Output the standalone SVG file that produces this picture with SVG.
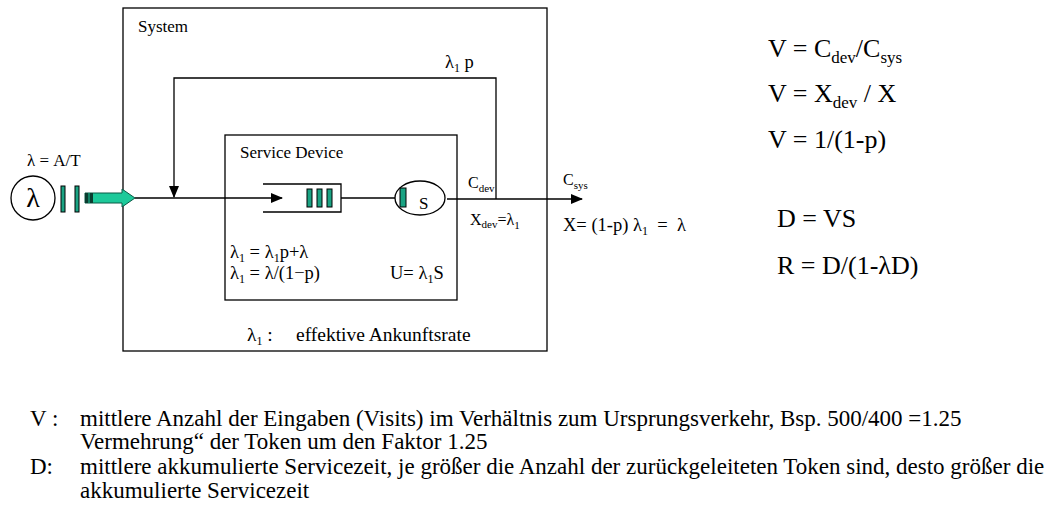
<svg xmlns="http://www.w3.org/2000/svg" width="1059" height="514" viewBox="0 0 1059 514">
<style>
text{font-family:"Liberation Serif","Times New Roman",serif;fill:#000}
.box{fill:none;stroke:#000;stroke-width:1.3}
.ln{fill:none;stroke:#000;stroke-width:1.3}
.tok{fill:#1aa383;stroke:#000;stroke-width:1}
.s17{font-size:17px}
.s18{font-size:18.5px}
.s20{font-size:19.5px}
.s16{font-size:16px}
.sub{font-size:11px}
.sub2{font-size:12px}
.eq{font-size:26px}
.eqs{font-size:17px}
.bt{font-size:23px}
</style>
<defs>
<marker id="ah" markerWidth="12" markerHeight="10" refX="11" refY="5" orient="auto" markerUnits="userSpaceOnUse">
<path d="M0,0 L12,5 L0,10 Z" fill="#000"/>
</marker>
</defs>
<rect width="1059" height="514" fill="#fff"/>

<g id="system">
<rect class="box" x="123" y="8" width="424" height="343"/>
<text class="s17" x="138" y="32">System</text>
<text class="s20" x="247" y="341">λ<tspan class="sub2" dy="4">1</tspan><tspan dy="-4"> :</tspan></text>
<text class="s20" x="296" y="341">effektive Ankunftsrate</text>
</g>

<g id="source">
<circle cx="33" cy="198" r="22" fill="#fff" stroke="#000" stroke-width="1.3"/>
<text x="33" y="207" font-size="28" text-anchor="middle">λ</text>
<text class="s17" x="27" y="166">λ = A/T</text>
<rect class="tok" x="61" y="186" width="4" height="26"/>
<rect class="tok" x="75" y="186" width="4" height="26"/>
</g>

<g id="input-arrow">
<path d="M85,193 L122,193 L122,189 L135,198 L122,207 L122,203 L85,203 Z" fill="#1dc99a" stroke="#0b5a46" stroke-width="1"/>
<rect x="85" y="193" width="8" height="10" fill="#0b3d30"/>
<line x1="89" y1="193" x2="89" y2="203" stroke="#1dc99a" stroke-width="1"/>
</g>

<g id="service-device">
<rect class="box" x="225" y="135" width="232" height="165"/>
<text class="s17" x="240" y="158">Service Device</text>
<text class="s18" x="230" y="258">λ<tspan class="sub2" dy="4">1</tspan><tspan dy="-4"> = λ</tspan><tspan class="sub2" dy="4">1</tspan><tspan dy="-4">p+λ</tspan></text>
<text class="s18" x="230" y="279">λ<tspan class="sub2" dy="4">1</tspan><tspan dy="-4"> = λ/(1−p)</tspan></text>
<text class="s18" x="390" y="279">U= λ<tspan class="sub2" dy="4">1</tspan><tspan dy="-4">S</tspan></text>
</g>

<g id="queue">
<path class="ln" d="M263,184 L341,184 L341,212 L263,212"/>
<rect class="tok" x="307" y="189" width="5" height="18"/>
<rect class="tok" x="317" y="189" width="5" height="18"/>
<rect class="tok" x="327" y="189" width="5" height="18"/>
</g>

<g id="server">
<ellipse cx="420" cy="198" rx="25" ry="17" fill="#fff" stroke="#000" stroke-width="1.3"/>
<rect class="tok" x="400" y="188" width="6" height="19"/>
<text class="s17" x="419" y="209">S</text>
</g>

<g id="connectors">
<line class="ln" x1="135" y1="198" x2="282" y2="198" marker-end="url(#ah)"/>
<line class="ln" x1="341" y1="198" x2="395" y2="198"/>
<line class="ln" x1="447" y1="199" x2="582" y2="199" marker-end="url(#ah)"/>
<path class="ln" d="M496,199 L496,78 L174,78 L174,197" marker-end="url(#ah)"/>
</g>

<g id="labels">
<text class="s18" x="445" y="68">λ<tspan class="sub2" dy="4">1</tspan><tspan dy="-4"> p</tspan></text>
<text class="s16" x="468" y="188">C<tspan class="sub" dy="4">dev</tspan></text>
<text class="s16" x="470" y="225">X<tspan class="sub" dy="3">dev</tspan><tspan dy="-3">=λ</tspan><tspan class="sub" dy="4">1</tspan></text>
<text class="s16" x="563" y="185">C<tspan class="sub" dy="4">sys</tspan></text>
<text class="s18" x="563" y="231" xml:space="preserve">X= (1-p) λ<tspan class="sub2" dy="4">1</tspan><tspan dy="-4">  =  λ</tspan></text>
</g>

<g id="equations">
<text class="eq" x="768" y="57">V = C<tspan class="eqs" dy="6">dev</tspan><tspan dy="-6">/C</tspan><tspan class="eqs" dy="6">sys</tspan></text>
<text class="eq" x="768" y="102">V = X<tspan class="eqs" dy="6">dev</tspan><tspan dy="-6"> / X</tspan></text>
<text class="eq" x="768" y="148">V = 1/(1-p)</text>
<text class="eq" x="777" y="227">D = VS</text>
<text class="eq" x="777" y="274">R = D/(1-λD)</text>
</g>

<g id="legend">
<text class="bt" x="30" y="426">V :</text>
<text class="bt" x="80" y="426">mittlere Anzahl der Eingaben (Visits) im Verhältnis zum Ursprungsverkehr, Bsp. 500/400 =1.25</text>
<text class="bt" x="80" y="449">Vermehrung“ der Token um den Faktor 1.25</text>
<text class="bt" x="30" y="474">D:</text>
<text class="bt" x="80" y="474">mittlere akkumulierte Servicezeit, je größer die Anzahl der zurückgeleiteten Token sind, desto größer die</text>
<text class="bt" x="80" y="498">akkumulierte Servicezeit</text>
</g>
</svg>
